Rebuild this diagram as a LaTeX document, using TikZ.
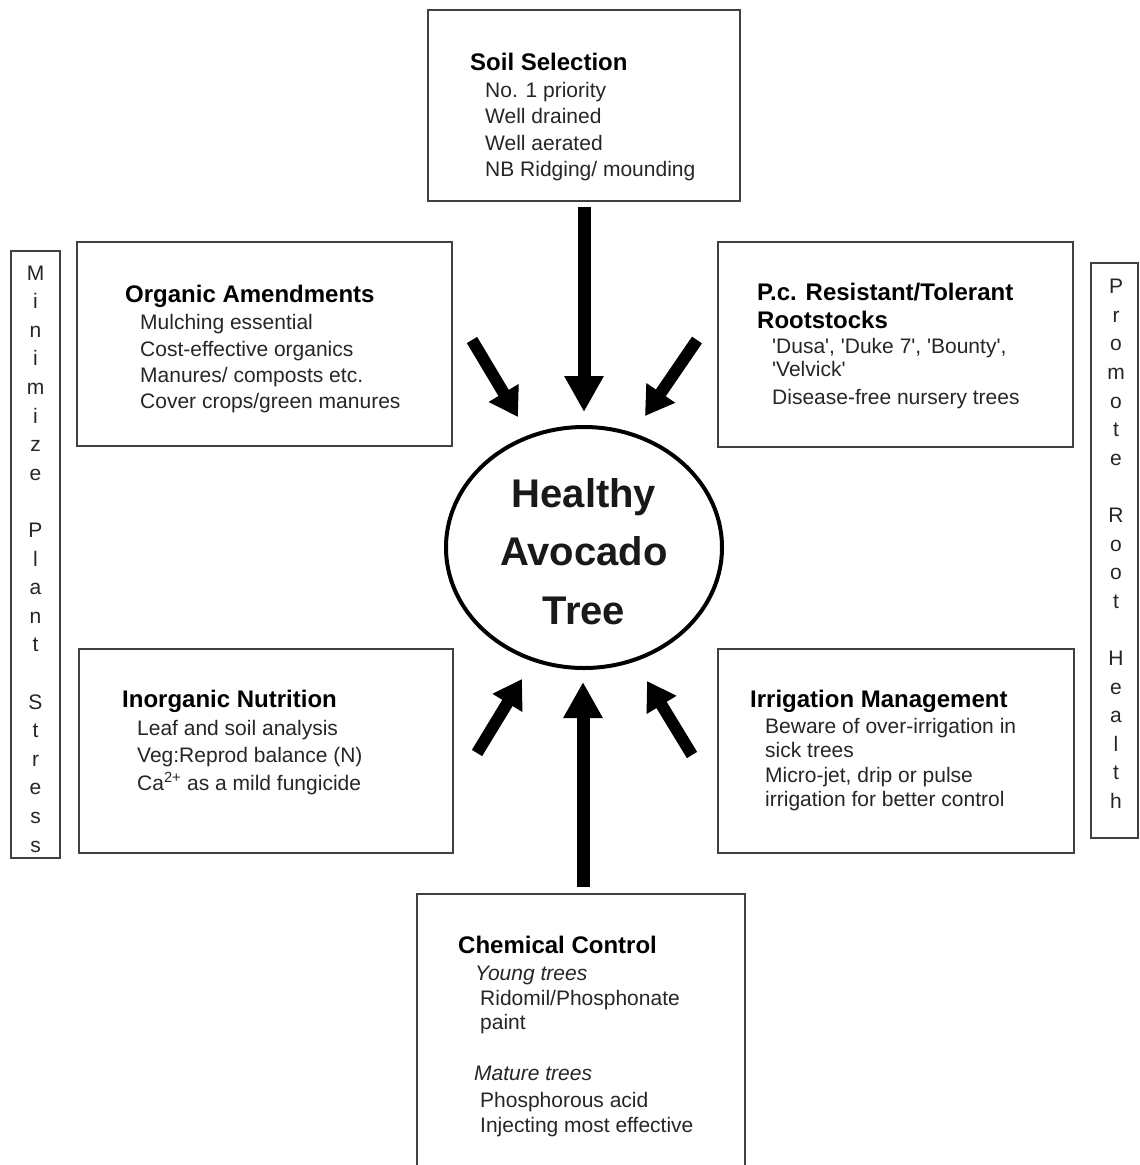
\documentclass[tikz,border=0pt]{standalone}
\usepackage{fontspec}
\setmainfont{Liberation Sans}[Ligatures=TeXOff]
\usetikzlibrary{arrows.meta}
\tikzset{
  box/.style={draw=black!75, line width=1.3pt, rectangle, inner sep=0pt},
  ttl/.style={anchor=base west, inner sep=0pt, font=\bfseries\fontsize{24}{28}\selectfont, text=black},
  bod/.style={anchor=base west, inner sep=0pt, font=\fontsize{21}{26}\selectfont, text=black!85},
  ita/.style={bod, font=\itshape\fontsize{21}{26}\selectfont},
  side/.style={anchor=north, inner sep=0pt, align=center, font=\fontsize{21}{28.6}\selectfont, text=black!85},
  big/.style={anchor=base, inner sep=0pt, font=\bfseries\fontsize{40}{48}\selectfont, text=black!90},
  varrow/.style={line width=13pt, -{Triangle[width=37pt,length=36pt]}},
  darrow/.style={line width=12pt, -{Triangle[width=33pt,length=28pt]}}
}
\begin{document}
\begin{tikzpicture}[x=1pt,y=-1pt]
\useasboundingbox[fill=white] (0,0) rectangle (1140,1165);

% boxes
\node[box, minimum width=312pt, minimum height=191pt] (soil) at (584,105.5) {};
\node[box, minimum width=375pt, minimum height=204pt] (org) at (264.5,344) {};
\node[box, minimum width=355pt, minimum height=205pt] (pc) at (895.5,344.5) {};
\node[box, minimum width=374pt, minimum height=204pt] (inorg) at (266,751) {};
\node[box, minimum width=356pt, minimum height=204pt] (irr) at (896,751) {};
\node[box, minimum width=49pt, minimum height=607pt] (lside) at (35.5,554.5) {};
\node[box, minimum width=47pt, minimum height=575pt] (rside) at (1114.5,550.5) {};
\coordinate (chemtl) at (417,894);
\coordinate (chemtr) at (745,894);
\draw[draw=black!75, line width=1.3pt] (417,1175) -- (chemtl) -- (chemtr) -- (745,1175);

% ellipse
\draw[line width=4pt] (584,547.5) ellipse [x radius=138, y radius=120.5];
\node[inner sep=0pt, minimum width=276pt, minimum height=241pt] (tree) at (584,547.5) {};
\node[big] (h1) at (584,507) {Healthy};
\node[big] (h2) at (584,565) {Avocado};
\node[big] (h3) at (584,624) {Tree};

% Soil selection
\node[ttl] (soilt) at (470,70) {Soil Selection};
\node[bod] (soil1) at (485,97) {No. 1 priority};
\node[bod] (soil2) at (485,123) {Well drained};
\node[bod] (soil3) at (485,150) {Well aerated};
\node[bod] (soil4) at (485,176) {NB Ridging/ mounding};

% Organic
\node[ttl] (orgt) at (125,302) {Organic Amendments};
\node[bod] (org1) at (140,329) {Mulching essential};
\node[bod] (org2) at (140,356) {Cost-effective organics};
\node[bod] (org3) at (140,382) {Manures/ composts etc.};
\node[bod] (org4) at (140,408) {Cover crops/green manures};

% P.c.
\node[ttl] (pct1) at (757,300) {P.c. Resistant/Tolerant};
\node[ttl] (pct2) at (757,328) {Rootstocks};
\node[bod] (pc1) at (772,353) {'Dusa', 'Duke 7', 'Bounty',};
\node[bod] (pc2) at (772,376) {'Velvick'};
\node[bod] (pc3) at (772,404) {Disease-free nursery trees};

% Inorganic
\node[ttl] (inot) at (122,707) {Inorganic Nutrition};
\node[bod] (ino1) at (137,735) {Leaf and soil analysis};
\node[bod] (ino2) at (137,762) {Veg:Reprod balance (N)};
\node[bod] (ino3) at (137,790) {Ca\textsuperscript{2+} as a mild fungicide};

% Irrigation
\node[ttl] (irrt) at (750,707) {Irrigation Management};
\node[bod] (irr1) at (765,733) {Beware of over-irrigation in};
\node[bod] (irr2) at (765,757) {sick trees};
\node[bod] (irr3) at (765,782) {Micro-jet, drip or pulse};
\node[bod] (irr4) at (765,806) {irrigation for better control};

% Chemical
\node[ttl] (chemt) at (458,953) {Chemical Control};
\node[ita] (chem1) at (475,980) {Young trees};
\node[bod] (chem2) at (480,1005) {Ridomil/Phosphonate};
\node[bod] (chem3) at (480,1029) {paint};
\node[ita] (chem4) at (474,1080) {Mature trees};
\node[bod] (chem5) at (480,1107) {Phosphorous acid};
\node[bod] (chem6) at (480,1132) {Injecting most effective};

% side texts
\node[side] (lsidet) at (35.5,265.5) {M\\i\\n\\i\\m\\i\\z\\e\\[28.6pt]P\\l\\a\\n\\t\\[28.6pt]S\\t\\r\\e\\s\\s};
\node[side] (rsidet) at (1116,279) {P\\r\\o\\m\\o\\t\\e\\[28.6pt]R\\o\\o\\t\\[28.6pt]H\\e\\a\\l\\t\\h};

% arrows
\coordinate (a1s) at (584,207);   \coordinate (a1e) at (584,412);
\coordinate (a2s) at (472,340);   \coordinate (a2e) at (518,417);
\coordinate (a3s) at (697,340);   \coordinate (a3e) at (645,416);
\coordinate (a4s) at (583,887);   \coordinate (a4e) at (583,682);
\coordinate (a5s) at (477,753);   \coordinate (a5e) at (522,679);
\coordinate (a6s) at (692,755);   \coordinate (a6e) at (647,681);
\draw[varrow] (a1s) -- (a1e);
\draw[darrow] (a2s) -- (a2e);
\draw[darrow] (a3s) -- (a3e);
\draw[varrow] (a4s) -- (a4e);
\draw[darrow] (a5s) -- (a5e);
\draw[darrow] (a6s) -- (a6e);
\end{tikzpicture}
\end{document}
